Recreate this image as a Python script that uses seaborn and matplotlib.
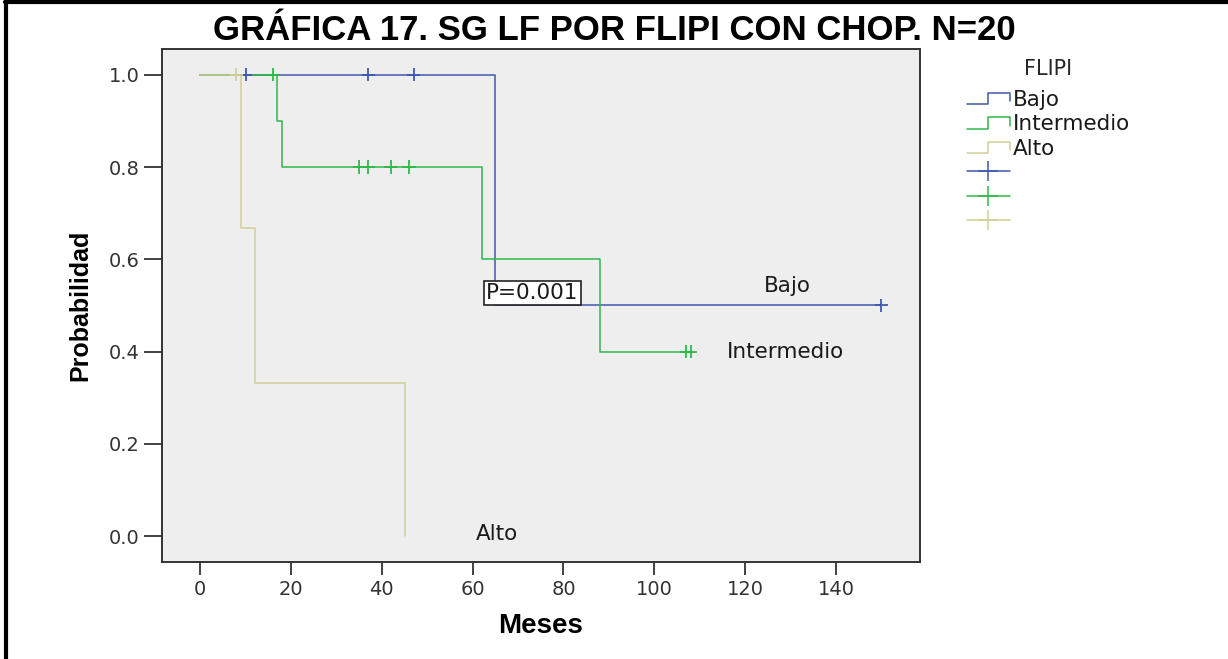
import matplotlib
matplotlib.use("Agg")
import pandas as pd
import matplotlib.pyplot as plt
import seaborn as sns
from matplotlib.lines import Line2D
from matplotlib.legend_handler import HandlerBase

# Kaplan-Meier steps
groups = ["Bajo", "Intermedio", "Alto"]
colors = ["#3E58AC", "#2EB848", "#D3CE97"]

bajo_t = [0, 65, 150]
bajo_s = [1.0, 0.5, 0.5]
bajo_cens_t = [10, 37, 47, 150]
bajo_cens_s = [1.0, 1.0, 1.0, 0.5]

inter_t = [0, 17, 18, 62, 88, 108]
inter_s = [1.0, 0.9, 0.8, 0.6, 0.4, 0.4]
inter_cens_t = [16, 35, 37, 42, 46, 107, 108]
inter_cens_s = [1.0, 0.8, 0.8, 0.8, 0.8, 0.4, 0.4]

alto_t = [0, 9, 12, 45]
alto_s = [1.0, 0.667, 0.333, 0.0]
alto_cens_t = [8]
alto_cens_s = [1.0]

x_ticks = [0, 20, 40, 60, 80, 100, 120, 140]
y_ticks = [0.0, 0.2, 0.4, 0.6, 0.8, 1.0]
p_value = "P=0.001"


class StepKey(Line2D):
    pass


class StepHandler(HandlerBase):
    """Legend key drawn as a small step"""
    def create_artists(self, legend, orig_handle, xdescent, ydescent,
                       width, height, fontsize, trans):
        x0 = -xdescent
        y0 = -ydescent
        xs = [x0, x0 + width * 0.5, x0 + width * 0.5, x0 + width, x0 + width]
        ys = [y0 + height * 0.1, y0 + height * 0.1, y0 + height * 0.85,
              y0 + height * 0.85, y0 + height * 0.3]
        line = Line2D(xs, ys, color=orig_handle.get_color(), lw=1.1, transform=trans)
        return [line]


def main():
    steps = pd.concat([
        pd.DataFrame({"Meses": bajo_t, "Prob": bajo_s, "FLIPI": "Bajo"}),
        pd.DataFrame({"Meses": inter_t, "Prob": inter_s, "FLIPI": "Intermedio"}),
        pd.DataFrame({"Meses": alto_t, "Prob": alto_s, "FLIPI": "Alto"}),
    ], ignore_index=True)
    cens = pd.concat([
        pd.DataFrame({"Meses": bajo_cens_t, "Prob": bajo_cens_s, "FLIPI": "Bajo"}),
        pd.DataFrame({"Meses": inter_cens_t, "Prob": inter_cens_s, "FLIPI": "Intermedio"}),
        pd.DataFrame({"Meses": alto_cens_t, "Prob": alto_cens_s, "FLIPI": "Alto"}),
    ], ignore_index=True)
    palette = dict(zip(groups, colors))

    sns.set_style("ticks")
    plt.rcParams["font.family"] = ["DejaVu Sans"]

    fig = plt.figure(figsize=(12.28, 6.59), dpi=100)
    ax = fig.add_axes([0.1319, 0.1472, 0.6173, 0.7785])
    ax.set_facecolor("#EEEEEE")

    sns.lineplot(data=steps, x="Meses", y="Prob", hue="FLIPI", hue_order=groups,
                 palette=palette, drawstyle="steps-post", estimator=None,
                 linewidth=1.1, legend=False, ax=ax)
    sns.scatterplot(data=cens, x="Meses", y="Prob", hue="FLIPI", hue_order=groups,
                    palette=palette, marker="+", s=90, linewidth=1.3,
                    legend=False, ax=ax, zorder=3)

    ax.set_xlim(-8.4, 158.5)
    ax.set_ylim(-0.056, 1.056)
    ax.set_xticks(x_ticks)
    ax.set_yticks(y_ticks)
    ax.set_yticklabels([f"{v:.1f}" for v in y_ticks])
    ax.tick_params(axis="x", length=9, width=1.3, color="#333333",
                   labelsize=14, labelcolor="#333333", pad=4)
    ax.tick_params(axis="y", length=13, width=1.3, color="#333333",
                   labelsize=14, labelcolor="#333333", pad=3)
    for sp in ax.spines.values():
        sp.set_color("#333333")
        sp.set_linewidth(1.4)

    ax.set_xlabel("Meses", fontsize=20, fontweight="bold", color="black",
                  family=["Liberation Sans", "DejaVu Sans"], labelpad=10)
    ax.set_ylabel("Probabilidad", fontsize=18, fontweight="bold", color="black",
                  family=["Liberation Sans", "DejaVu Sans"], labelpad=12)
    fig.suptitle("GRÁFICA 17. SG LF POR FLIPI CON CHOP. N=20", x=0.5, y=0.979,
                 fontsize=25, fontweight="bold", color="black",
                 family=["Liberation Sans", "DejaVu Sans"])

    # curve labels and p-value box
    lab = dict(fontsize=15.5, ha="center", va="center", color="#1a1a1a")
    ax.text(129.4, 0.542, "Bajo", **lab)
    ax.text(128.8, 0.399, "Intermedio", **lab)
    ax.text(65.4, 0.004, "Alto", **lab)
    ax.text(63.0, 0.527, p_value, fontsize=15.5, ha="left", va="center", color="#1a1a1a",
            bbox=dict(boxstyle="square,pad=0.1", facecolor="white",
                      edgecolor="#222222", linewidth=1.2), zorder=5)

    # legend: step keys with labels, then censor keys without labels
    handles = [StepKey([], [], color=c, label=g) for g, c in zip(groups, colors)]
    handles += [Line2D([], [], color=c, lw=1.1, marker="+", markersize=15,
                       markeredgewidth=1.1, label="") for c in colors]
    leg = fig.legend(handles=handles, labels=[h.get_label() for h in handles],
                     handler_map={StepKey: StepHandler()},
                     loc="upper left", bbox_to_anchor=(0.7785, 0.927),
                     frameon=False, title="FLIPI", fontsize=15.5, title_fontsize=15,
                     handlelength=2.0, handletextpad=0.15, labelspacing=0.2,
                     borderpad=0)
    leg._legend_box.sep = 8
    for t in leg.get_texts():
        t.set_color("#1a1a1a")

    # outer frame lines on top and left of the picture
    fig.add_artist(Line2D([0.004, 1.0], [0.997, 0.997], color="black", lw=3,
                          transform=fig.transFigure))
    fig.add_artist(Line2D([0.005, 0.005], [0.0, 0.997], color="black", lw=3,
                          transform=fig.transFigure))

    fig.savefig("out.png", dpi=100, facecolor="white")


if __name__ == "__main__":
    main()
